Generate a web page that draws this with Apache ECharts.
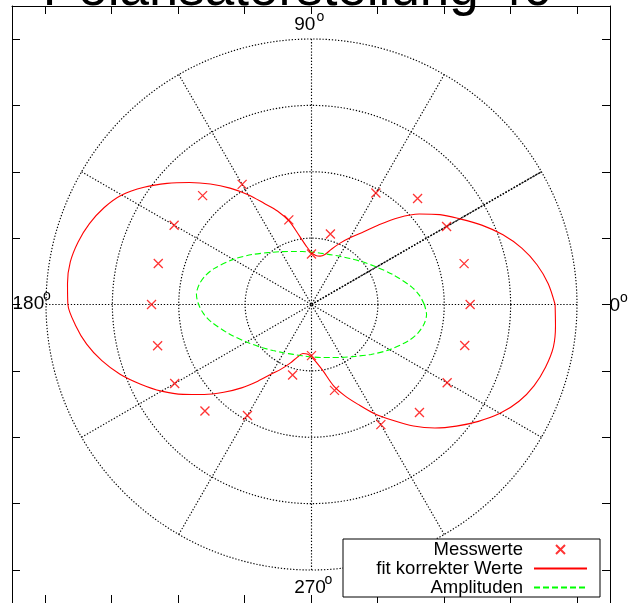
<!DOCTYPE html>
<html>
<head>
<meta charset="utf-8">
<script src="https://cdn.jsdelivr.net/npm/echarts@6/dist/echarts.min.js"></script>
<style>html,body{margin:0;padding:0;background:#fff;}#c{width:638px;height:603px;}</style>
</head>
<body>
<div id="c"></div>
<script>
// ---- data ----
const titleText = 'Polarisatorstellung 40';
const seriesNames = ['Messwerte', 'fit korrekter Werte', 'Amplituden'];
const tickValues = [-4, -3, -2, -1, 0, 1, 2, 3, 4];
const angleLabelTexts = ['0', '90', '180', '270'];

const measAngles = [0, 15, 30, 45, 60, 75, 90, 105, 120, 135, 150, 165, 180, 195, 210, 225, 240, 255, 270, 285, 300, 315, 330, 345];
const measValues = [2.39, 2.38, 2.35, 2.26, 1.94, 1.10, 0.76, 1.32, 2.09, 2.32, 2.39, 2.39, 2.41, 2.40, 2.38, 2.27, 1.93, 1.10, 0.77, 1.34, 2.09, 2.30, 2.36, 2.39];

const fitAngles = [0, 5, 10, 15, 20, 25, 30, 35, 40, 45, 50, 55, 60, 65, 70, 75, 80, 85, 90, 95, 100, 105, 110, 115, 120, 125, 130, 135, 140, 145, 150, 155, 160, 165, 170, 175,
  180, 185, 190, 195, 200, 205, 210, 215, 220, 225, 230, 235, 240, 245, 250, 255, 260, 265, 270, 275, 280, 285, 290, 295, 300, 305, 310, 315, 320, 325, 330, 335, 340, 345, 350, 355, 360];
const fitValues = [3.67, 3.58, 3.45, 3.28, 3.07, 2.83, 2.58, 2.36, 2.12, 1.85, 1.56, 1.32, 1.16, 1.02, 0.89, 0.78, 0.74, 0.74, 0.78, 0.88, 1.05, 1.30, 1.50, 1.68, 1.91, 2.14, 2.37, 2.60, 2.84, 3.08, 3.30, 3.45, 3.56, 3.64, 3.69, 3.69,
  3.67, 3.57, 3.44, 3.27, 3.07, 2.84, 2.61, 2.36, 2.11, 1.87, 1.64, 1.41, 1.21, 1.07, 0.94, 0.82, 0.75, 0.75, 0.79, 0.88, 1.02, 1.26, 1.46, 1.66, 1.90, 2.13, 2.39, 2.63, 2.85, 3.07, 3.28, 3.45, 3.57, 3.65, 3.70, 3.69, 3.67];

const ampAngles = [0, 5, 10, 20, 30, 40, 50, 60, 70, 80, 90, 100, 110, 120, 130, 140, 150, 160, 165, 170, 175,
  180, 185, 190, 200, 210, 220, 230, 240, 250, 260, 270, 280, 290, 300, 310, 320, 330, 340, 345, 350, 355, 360];
const ampValues = [1.70, 1.63, 1.53, 1.31, 1.13, 1.00, 0.905, 0.84, 0.80, 0.785, 0.79, 0.81, 0.85, 0.92, 1.02, 1.17, 1.36, 1.57, 1.66, 1.72, 1.74,
  1.70, 1.63, 1.53, 1.31, 1.13, 1.00, 0.905, 0.84, 0.80, 0.785, 0.79, 0.81, 0.85, 0.92, 1.02, 1.17, 1.36, 1.57, 1.66, 1.72, 1.74, 1.70];

const spokeAngle = 30;   // the darker dotted spoke
const spokeRadii = [0, 4];

// ---- chart ----
const FONT = 'Liberation Sans, Arial, sans-serif';
const chart = echarts.init(document.getElementById('c'), null, {renderer: 'canvas', width: 638, height: 603});
const zip = (vals, angs) => vals.map((v, i) => [v, angs[i]]);
const dotted = {color: '#000', width: 1.15, type: [1.3, 1.8]};

function frameAxis(pos) {
  return {
    type: 'value', position: pos, min: -4.5, max: 4.5,
    axisLine: {show: true, onZero: false, lineStyle: {color: '#000', width: 1}},
    axisTick: {show: true, inside: true, length: 8, customValues: tickValues, lineStyle: {color: '#000', width: 1}},
    axisLabel: {show: false},
    splitLine: {show: false}
  };
}

const superLabels = [
  {x: 609.5, y: 305.5, ox: 620, oy: 298, t: angleLabelTexts[0]},
  {x: 294.2, y: 25, ox: 316.5, oy: 17.5, t: angleLabelTexts[1]},
  {x: 12.5, y: 304, ox: 43, oy: 296.5, t: angleLabelTexts[2]},
  {x: 294.2, y: 588, ox: 324.5, oy: 580.5, t: angleLabelTexts[3]}
];
const graphics = [{
  type: 'text', x: 42.8, y: -9.4, z: 100,
  style: {text: titleText, font: '53px ' + FONT, fill: '#000', align: 'left', verticalAlign: 'middle'}
}];
superLabels.forEach(l => {
  graphics.push({type: 'text', x: l.x, y: l.y, z: 100, style: {text: l.t, font: '19px ' + FONT, fill: '#000', align: 'left', verticalAlign: 'middle'}});
  graphics.push({type: 'text', x: l.ox, y: l.oy, z: 100, style: {text: 'o', font: '14px ' + FONT, fill: '#000', align: 'left', verticalAlign: 'middle'}});
});

chart.setOption({
  animation: false,
  backgroundColor: '#fff',
  grid: {left: 12, top: 6, width: 598, height: 598, show: false},
  xAxis: [frameAxis('bottom'), frameAxis('top')],
  yAxis: [frameAxis('left'), frameAxis('right')],
  polar: {center: [311.5, 304.5], radius: 265.5},
  angleAxis: {
    type: 'value', min: 0, max: 360, interval: 30, startAngle: 0, clockwise: false,
    axisLine: {show: false}, axisTick: {show: false}, axisLabel: {show: false},
    splitLine: {show: true, lineStyle: dotted}
  },
  radiusAxis: {
    type: 'value', min: 0, max: 4, interval: 1,
    axisLine: {show: false}, axisTick: {show: false}, axisLabel: {show: false},
    splitLine: {show: true, lineStyle: dotted}
  },
  legend: {
    data: [
      {name: seriesNames[0]},
      {name: seriesNames[1], itemStyle: {opacity: 0}},
      {name: seriesNames[2], itemStyle: {opacity: 0}}
    ],
    orient: 'vertical', left: 343, top: 539, align: 'right',
    itemWidth: 53, itemHeight: 9, itemGap: 0, padding: [1, 12, 0, 4],
    backgroundColor: '#fff', borderColor: '#000', borderWidth: 1, borderRadius: 0,
    selectedMode: false,
    textStyle: {fontFamily: FONT, fontSize: 18.5, color: '#000', width: 176, lineHeight: 18.5, align: 'right', padding: [0, 6, 0, 0]}
  },
  graphic: graphics,
  series: [
    {
      name: seriesNames[0], type: 'scatter', coordinateSystem: 'polar',
      data: zip(measValues, measAngles),
      symbol: 'path://M0,0L10,10M10,0L0,10', symbolSize: 9,
      itemStyle: {color: '#ff0000', borderColor: '#ff0000', borderWidth: 1.3}, z: 5
    },
    {
      name: seriesNames[1], type: 'line', coordinateSystem: 'polar',
      data: zip(fitValues, fitAngles), smooth: 0.3, symbol: 'none',
      lineStyle: {color: '#ff0000', width: 1.1}, itemStyle: {color: '#ff0000'}, z: 4
    },
    {
      name: seriesNames[2], type: 'line', coordinateSystem: 'polar',
      data: zip(ampValues, ampAngles), smooth: 0.3, symbol: 'none',
      lineStyle: {color: '#00ff00', width: 1.1, type: [6, 3]}, itemStyle: {color: '#00ff00'}, z: 4
    },
    {
      type: 'line', coordinateSystem: 'polar', silent: true,
      data: spokeRadii.map(r => [r, spokeAngle]), symbol: 'none',
      lineStyle: {color: '#000', width: 1.5, type: [1.5, 1.7]}, z: 2
    }
  ]
});
</script>
</body>
</html>
